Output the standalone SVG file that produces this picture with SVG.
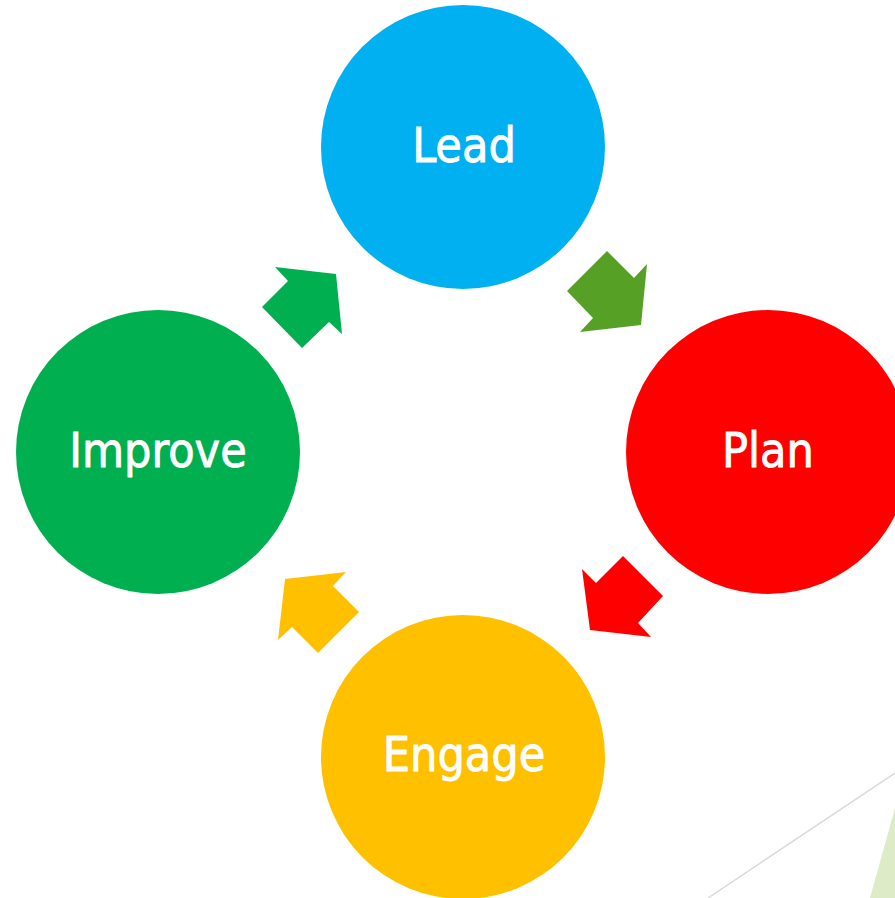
<svg xmlns="http://www.w3.org/2000/svg" width="895" height="898" viewBox="0 0 895 898">
<style>
.lbl{fill:#FFFFFF;stroke:#FFFFFF;stroke-width:0.8px;font-family:"DejaVu Sans Condensed","DejaVu Sans",sans-serif;font-stretch:condensed;font-size:48px;text-anchor:middle}
</style>
<rect width="895" height="898" fill="#FFFFFF"/>
<g id="decor">
<line x1="708" y1="898" x2="895" y2="773" stroke="#D9D9D9" stroke-width="1.5"/>
<polygon points="895,808 870,898 895,898" fill="#DDEBC7"/>
</g>
<g id="connectors">
<polygon points="607,251 634,278 647,264 641,325 580,332 593,318 567,291" fill="#56A125"/>
<polygon points="623,556 663,596 638,623 651,637 590,630 582,569 596,583" fill="#FF0000"/>
<polygon points="346,572 333,586 359,612 318,653 292,627 278,640 285,579" fill="#FFC000"/>
<polygon points="275,267 336,274 342,334 329,322 302,348 262,307 288,281" fill="#00B050"/>
</g>
<g id="lead"><circle cx="463" cy="147" r="142" fill="#00B0F0"/><text class="lbl" x="464" y="162">Lead</text></g>
<g id="plan"><circle cx="768" cy="452" r="142" fill="#FF0000"/><text class="lbl" x="768" y="467">Plan</text></g>
<g id="engage"><circle cx="463" cy="757" r="142" fill="#FFC000"/><text class="lbl" x="464" y="771">Engage</text></g>
<g id="improve"><circle cx="158" cy="452" r="142" fill="#00B050"/><text class="lbl" x="158" y="467">Improve</text></g>
</svg>
